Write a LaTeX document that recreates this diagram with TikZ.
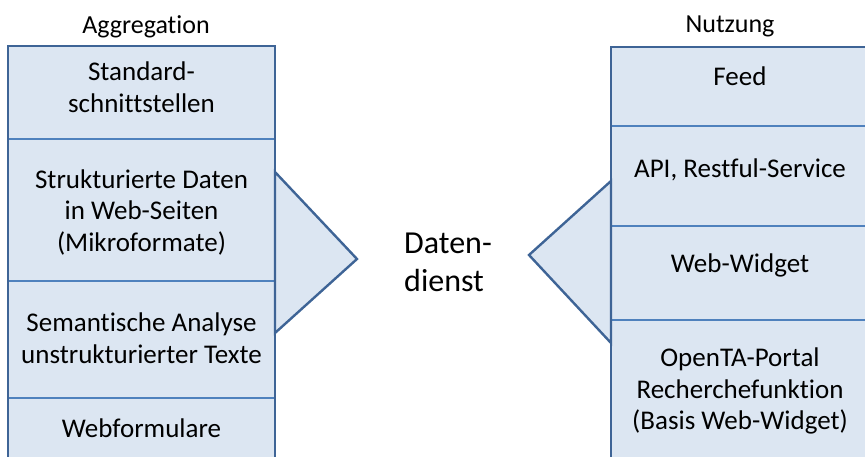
\documentclass[tikz,border=0pt]{standalone}
\usepackage{fontspec}
\setmainfont{Carlito}[Ligatures=NoCommon]
\definecolor{cellfill}{HTML}{DCE6F2}
\definecolor{outerline}{HTML}{3E6496}
\definecolor{innerline}{HTML}{4F81BD}
\begin{document}
\begin{tikzpicture}[x=1pt,y=-1pt,
  cellbox/.style={fill=cellfill, draw=innerline, line width=1.8pt},
  frame/.style={draw=outerline, line width=2.4pt},
  wedge/.style={fill=cellfill, draw=outerline, line width=2.4pt, line join=miter},
  label/.style={align=center, inner sep=0pt, font=\fontsize{27}{31.5}\selectfont},
  heading/.style={inner sep=0pt, anchor=base, font=\fontsize{26}{30}\selectfont},
  center/.style={align=left, inner sep=0pt, anchor=west, font=\fontsize{32}{38}\selectfont}]
\useasboundingbox (0,0) rectangle (865,457);
\clip (0,0) rectangle (865,457);

% headings
\node[heading] (hagg) at (146,34) {Aggregation};
\node[heading] (hnut) at (730,33) {Nutzung};

% left column: aggregation sources
\draw[cellbox] (8,46) rectangle (275,139);
\draw[cellbox] (8,139) rectangle (275,281);
\draw[cellbox] (8,281) rectangle (275,398);
\draw[cellbox] (8,398) rectangle (275,470);
\draw[frame] (8,470) -- (8,46) -- (275,46) -- (275,470);
\node[label] (a1) at (141.5,87) {Standard-\\schnittstellen};
\node[label] (a2) at (141.5,212) {Strukturierte Daten\\in Web-Seiten\\(Mikroformate)};
\node[label] (a3) at (141.5,338) {Semantische Analyse\\unstrukturierter Texte};
\node[label] (a4) at (141.5,428) {Webformulare};

% right column: usage channels
\draw[cellbox] (611,47) rectangle (875,126);
\draw[cellbox] (611,126) rectangle (875,226);
\draw[cellbox] (611,226) rectangle (875,320);
\draw[cellbox] (611,320) rectangle (875,470);
\draw[frame] (611,470) -- (611,47) -- (875,47);
\node[label] (n1) at (740,76) {Feed};
\node[label] (n2) at (740,170) {API, Restful-Service};
\node[label] (n3) at (740,265) {Web-Widget};
\node[label] (n4) at (740,391) {OpenTA-Portal\\Recherchefunktion\\(Basis Web-Widget)};

% wedges pointing into / out of the data service
\draw[wedge] (275,172) -- (357,259) -- (275,333) -- cycle;
\draw[wedge] (611,181) -- (529,255) -- (611,343) -- cycle;

\node[center] (dd) at (404,262) {Daten-\\dienst};
\end{tikzpicture}
\end{document}
